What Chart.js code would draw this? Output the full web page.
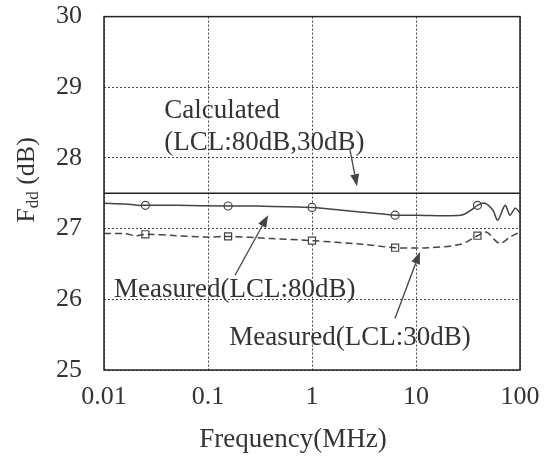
<!DOCTYPE html>
<html>
<head>
<meta charset="utf-8">
<script src="https://cdn.jsdelivr.net/npm/chart.js@4.4.0/dist/chart.umd.min.js"></script>
<style>
  html, body { margin: 0; padding: 0; background: #fff; }
</style>
</head>
<body>
<canvas id="chart" width="560" height="459"></canvas>
<script>
// tick values
const xTicks = [0.01, 0.1, 1, 10, 100];

// calculated (both LCL cases)
const calcFreq = [0.01, 100];
const calcVals = [27.5, 27.5];

// measured, LCL 80dB (solid)
const freq80 = [0.01, 0.016, 0.021, 0.026, 0.05, 0.156, 0.3, 1, 2.3, 6.3, 10, 27, 33, 39, 46, 55, 61, 72, 80, 90, 100];
const vals80 = [27.36, 27.35, 27.33, 27.33, 27.33, 27.32, 27.32, 27.30, 27.25, 27.19, 27.19, 27.19, 27.25, 27.33, 27.36, 27.26, 27.12, 27.33, 27.19, 27.29, 27.22];

// measured, LCL 30dB (dashed)
const freq30 = [0.01, 0.016, 0.02, 0.026, 0.05, 0.1, 0.156, 0.4, 1, 3, 6.3, 13, 27, 39, 48, 57, 65, 80, 100];
const vals30 = [26.93, 26.93, 26.90, 26.92, 26.90, 26.88, 26.89, 26.86, 26.83, 26.78, 26.73, 26.73, 26.78, 26.90, 26.95, 26.84, 26.79, 26.88, 26.95];

// marker positions
const markFreq = [0.025, 0.156, 1, 6.3, 39];
const mark80 = [27.33, 27.32, 27.30, 27.19, 27.33];
const mark30 = [26.92, 26.89, 26.83, 26.73, 26.90];

// annotations in data coordinates
const labels = [
    {text: "Calculated", x: 0.038, y: 28.67},
    {text: "(LCL:80dB,30dB)", x: 0.038, y: 28.21},
    {text: "Measured(LCL:80dB)", x: 0.0125, y: 26.13},
    {text: "Measured(LCL:30dB)", x: 0.16, y: 25.45}
];
const arrows = [
    {from: [2.32, 28.11], to: [2.71, 27.6]},
    {from: [0.182, 26.34], to: [0.378, 27.19]},
    {from: [6.28, 25.73], to: [10.9, 26.67]}
];

const FONT = '"Liberation Serif", "DejaVu Serif", serif';
const INK = '#333';

function pts(xs, ys) {
    return xs.map((x, i) => ({x: x, y: ys[i]}));
}

const decorPlugin = {
    id: 'decor',
    afterDatasetsDraw(chart) {
        const {ctx, chartArea: a} = chart;
        ctx.save();
        ctx.strokeStyle = '#222';
        ctx.lineWidth = 1.5;
        ctx.strokeRect(a.left, a.top, a.right - a.left, a.bottom - a.top);
        ctx.restore();
    },
    afterDraw(chart) {
        const {ctx} = chart;
        const xs = chart.scales.x, ys = chart.scales.y;
        ctx.save();
        ctx.fillStyle = INK;
        ctx.strokeStyle = '#444';

        // annotation text
        ctx.font = '27px ' + FONT;
        ctx.textAlign = 'left';
        ctx.textBaseline = 'middle';
        labels.forEach(l => {
            ctx.fillText(l.text, xs.getPixelForValue(l.x), ys.getPixelForValue(l.y));
        });

        // arrows
        arrows.forEach(ar => {
            const x1 = xs.getPixelForValue(ar.from[0]), y1 = ys.getPixelForValue(ar.from[1]);
            const x2 = xs.getPixelForValue(ar.to[0]), y2 = ys.getPixelForValue(ar.to[1]);
            const ang = Math.atan2(y2 - y1, x2 - x1);
            const hl = 12, hw = 4.5;
            ctx.lineWidth = 1.3;
            ctx.beginPath();
            ctx.moveTo(x1, y1);
            ctx.lineTo(x2 - hl * Math.cos(ang), y2 - hl * Math.sin(ang));
            ctx.stroke();
            ctx.beginPath();
            ctx.moveTo(x2, y2);
            ctx.lineTo(x2 - hl * Math.cos(ang) + hw * Math.sin(ang), y2 - hl * Math.sin(ang) - hw * Math.cos(ang));
            ctx.lineTo(x2 - hl * Math.cos(ang) - hw * Math.sin(ang), y2 - hl * Math.sin(ang) + hw * Math.cos(ang));
            ctx.closePath();
            ctx.fillStyle = '#444';
            ctx.fill();
        });

        // x title
        ctx.fillStyle = INK;
        ctx.textAlign = 'center';
        ctx.font = '27px ' + FONT;
        ctx.fillText('Frequency(MHz)', 293, 440);

        // y title with subscript
        ctx.translate(27, 180);
        ctx.rotate(-Math.PI / 2);
        ctx.textAlign = 'left';
        const p1 = 'F', p2 = 'dd', p3 = ' (dB)';
        ctx.font = '26px ' + FONT;
        const w1 = ctx.measureText(p1).width, w3 = ctx.measureText(p3).width;
        ctx.font = '17px ' + FONT;
        const w2 = ctx.measureText(p2).width;
        let x0 = -(w1 + w2 + w3) / 2;
        ctx.font = '26px ' + FONT;
        ctx.fillText(p1, x0, 0);
        ctx.font = '17px ' + FONT;
        ctx.fillText(p2, x0 + w1, 7);
        ctx.font = '26px ' + FONT;
        ctx.fillText(p3, x0 + w1 + w2, 0);
        ctx.restore();
    }
};

new Chart(document.getElementById('chart'), {
    type: 'scatter',
    data: {
        datasets: [
            {data: pts(calcFreq, calcVals), showLine: true, borderColor: '#222', borderWidth: 1.5, pointRadius: 0},
            {data: pts(freq80, vals80), showLine: true, borderColor: '#444', borderWidth: 1.5, pointRadius: 0, tension: 0.3},
            {data: pts(freq30, vals30), showLine: true, borderColor: '#444', borderWidth: 1.5, borderDash: [7, 4], pointRadius: 0, tension: 0.3},
            {data: pts(markFreq, mark80), pointStyle: 'circle', pointRadius: 4, backgroundColor: '#fff', borderColor: '#444', borderWidth: 1.2},
            {data: pts(markFreq, mark30), pointStyle: 'rect', pointRadius: 5, backgroundColor: '#fff', borderColor: '#444', borderWidth: 1.2}
        ]
    },
    options: {
        responsive: false,
        animation: false,
        layout: {padding: {left: 0, right: 40, top: 16, bottom: 0}},
        plugins: {legend: {display: false}, tooltip: {enabled: false}},
        scales: {
            x: {
                type: 'logarithmic',
                min: 0.01,
                max: 100,
                afterBuildTicks: s => { s.ticks = xTicks.map(v => ({value: v})); },
                afterFit: s => { s.height = 89; },
                ticks: {
                    autoSkip: false,
                    maxRotation: 0,
                    padding: 12,
                    color: INK,
                    font: {family: FONT, size: 26},
                    callback: v => String(v)
                },
                grid: {color: '#444', lineWidth: 1, drawTicks: false},
                border: {display: false, dash: [2, 2]}
            },
            y: {
                min: 25,
                max: 30,
                afterFit: s => { s.width = 104; },
                ticks: {
                    stepSize: 1,
                    padding: 1,
                    color: INK,
                    font: {family: FONT, size: 26}
                },
                grid: {color: '#444', lineWidth: 1, drawTicks: true, tickLength: 21, tickColor: 'rgba(0,0,0,0)'},
                border: {display: false, dash: [2, 2]}
            }
        }
    },
    plugins: [decorPlugin]
});
</script>
</body>
</html>
